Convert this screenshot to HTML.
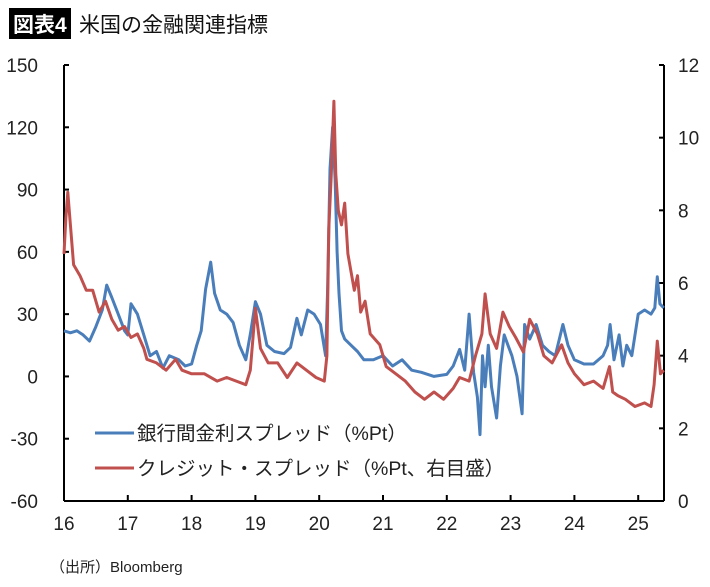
<!DOCTYPE html>
<html><head><meta charset="utf-8">
<style>
body{margin:0;background:#fff;}
svg text{font-family:"Liberation Sans","Noto Sans CJK JP",sans-serif;}
svg text.num{font-family:"Liberation Sans Narrow","Liberation Sans",sans-serif;}
</style></head>
<body>
<svg id="chart" width="710" height="582" viewBox="0 0 710 582" xmlns="http://www.w3.org/2000/svg">
<rect x="9" y="8" width="62" height="31" fill="#000"/>
<text x="13" y="32" font-size="21" font-weight="bold" fill="#fff">図表4</text>
<text x="79" y="32" font-size="21" fill="#111">米国の金融関連指標</text>
<g id="axes"></g>
<g id="series"></g>
<g>
<line x1="95" y1="433" x2="134" y2="433" stroke="#4a7ebb" stroke-width="3"/>
<text x="137" y="440" font-size="19.5" fill="#222">銀行間金利スプレッド（%Pt）</text>
<line x1="95" y1="468" x2="134" y2="468" stroke="#c0504d" stroke-width="3"/>
<text x="137" y="475" font-size="19.5" fill="#222">クレジット・スプレッド（%Pt、右目盛）</text>
</g>
<text x="50" y="572" font-size="15" fill="#222">（出所）Bloomberg</text>
</svg>
<script>
const blueDates=[2016.0,2016.1,2016.2,2016.3,2016.4,2016.5,2016.6,2016.67,2016.75,2016.85,2016.95,2017.0,2017.05,2017.15,2017.25,2017.35,2017.45,2017.55,2017.65,2017.8,2017.9,2018.0,2018.08,2018.15,2018.22,2018.3,2018.36,2018.45,2018.55,2018.65,2018.75,2018.85,2018.93,2019.0,2019.08,2019.18,2019.3,2019.45,2019.55,2019.65,2019.72,2019.82,2019.92,2020.02,2020.1,2020.13,2020.17,2020.21,2020.25,2020.28,2020.31,2020.35,2020.4,2020.5,2020.6,2020.7,2020.85,2021.0,2021.15,2021.3,2021.45,2021.6,2021.8,2022.0,2022.1,2022.2,2022.28,2022.35,2022.42,2022.48,2022.52,2022.56,2022.6,2022.65,2022.7,2022.78,2022.84,2022.9,2022.96,2023.02,2023.1,2023.18,2023.22,2023.3,2023.4,2023.5,2023.6,2023.7,2023.82,2023.9,2024.0,2024.15,2024.3,2024.45,2024.52,2024.56,2024.62,2024.7,2024.76,2024.82,2024.9,2025.0,2025.1,2025.2,2025.26,2025.3,2025.34,2025.4];
const blueValues=[22,21,22,20,17,24,32,44,38,30,22,20,35,30,20,10,12,4,10,8,5,6,15,22,42,55,40,32,30,26,15,8,22,36,30,15,12,11,14,28,20,32,30,25,10,40,100,120,95,60,40,22,18,15,12,8,8,10,5,8,3,2,0,1,5,13,3,30,2,-10,-28,10,-5,15,-5,-20,5,20,15,10,0,-18,25,18,25,15,12,10,25,15,8,6,6,10,15,25,8,20,5,15,10,30,32,30,33,48,35,33];
const redDates=[2016.0,2016.03,2016.06,2016.1,2016.15,2016.25,2016.35,2016.45,2016.55,2016.65,2016.75,2016.85,2016.95,2017.05,2017.15,2017.25,2017.3,2017.45,2017.6,2017.75,2017.85,2018.0,2018.2,2018.4,2018.55,2018.7,2018.85,2018.92,2019.0,2019.08,2019.2,2019.35,2019.5,2019.65,2019.8,2019.95,2020.08,2020.12,2020.15,2020.19,2020.23,2020.26,2020.3,2020.35,2020.4,2020.45,2020.5,2020.55,2020.6,2020.65,2020.72,2020.8,2020.95,2021.05,2021.2,2021.35,2021.5,2021.65,2021.8,2021.95,2022.1,2022.2,2022.35,2022.45,2022.55,2022.6,2022.68,2022.78,2022.88,2022.98,2023.08,2023.2,2023.3,2023.42,2023.52,2023.65,2023.8,2023.9,2024.0,2024.15,2024.3,2024.45,2024.55,2024.6,2024.68,2024.8,2024.95,2025.1,2025.2,2025.25,2025.3,2025.35,2025.4];
const redValues=[6.8,7.8,8.5,7.6,6.5,6.2,5.8,5.8,5.2,5.5,5.0,4.7,4.8,4.5,4.6,4.2,3.9,3.8,3.6,3.9,3.6,3.5,3.5,3.3,3.4,3.3,3.2,3.6,5.3,4.2,3.8,3.8,3.4,3.8,3.6,3.4,3.3,4.0,7.5,9.0,11.0,9.0,8.0,7.6,8.2,6.8,6.3,5.8,6.2,5.2,5.5,4.6,4.3,3.7,3.5,3.3,3.0,2.8,3.0,2.8,3.1,3.4,3.3,4.0,4.6,5.7,4.6,4.2,5.2,4.8,4.5,4.1,5.0,4.6,4.0,3.8,4.3,3.8,3.5,3.2,3.3,3.1,3.7,3.0,2.9,2.8,2.6,2.7,2.6,3.2,4.4,3.5,3.6];
const leftTicks=[150,120,90,60,30,0,-30,-60];
const rightTicks=[12,10,8,6,4,2,0];
const yearTicks=[16,17,18,19,20,21,22,23,24,25];

const L=64,R=664,T=65,B=501;
const x=d=>L+(d-2016)*63.8;
const yL=v=>B-(v+60)*(B-T)/210;
const yR=v=>B-v*(B-T)/12;
const NS='http://www.w3.org/2000/svg';
function mk(tag,attrs,parent){const e=document.createElementNS(NS,tag);for(const k in attrs)e.setAttribute(k,attrs[k]);parent.appendChild(e);return e;}
const ax=document.getElementById('axes'), sr=document.getElementById('series');
let e;
e=mk('line',{x1:L,y1:T,x2:L,y2:B,stroke:'#000','stroke-width':2},ax);


e=mk('line',{x1:R,y1:T,x2:R,y2:B,stroke:'#000','stroke-width':2},ax);


e=mk('line',{x1:L,y1:B,x2:R,y2:B,stroke:'#000','stroke-width':2},ax);


leftTicks.forEach(v=>{
  mk('line',{x1:L,y1:yL(v),x2:L+5,y2:yL(v),stroke:'#000','stroke-width':2},ax);
  e=mk('text',{x:38,y:yL(v)+7,'font-size':19,'text-anchor':'end',fill:'#222','class':'num'},ax);
  e.textContent=v;
  
  
});
rightTicks.forEach(v=>{
  mk('line',{x1:R-5,y1:yR(v),x2:R,y2:yR(v),stroke:'#000','stroke-width':2},ax);
  e=mk('text',{x:678,y:yR(v)+7,'font-size':19,fill:'#222','class':'num'},ax);
  e.textContent=v;
  
  
});
yearTicks.forEach(yv=>{
  const xx=x(2000+yv);
  mk('line',{x1:xx,y1:B-6,x2:xx,y2:B,stroke:'#000','stroke-width':2},ax);
  e=mk('text',{x:xx,y:530,'font-size':19,'text-anchor':'middle',fill:'#222','class':'num'},ax);
  e.textContent=yv;
  
  
});
function path(ds,vs,fy){return ds.map((d,i)=>(i?'L':'M')+x(d).toFixed(1)+','+fy(vs[i]).toFixed(1)).join('');}
e=mk('path',{d:path(blueDates,blueValues,yL),fill:'none',stroke:'#4a7ebb','stroke-width':3,'stroke-linejoin':'round'},sr);


e=mk('path',{d:path(redDates,redValues,yR),fill:'none',stroke:'#c0504d','stroke-width':3,'stroke-linejoin':'round'},sr);


</script>
</body></html>
